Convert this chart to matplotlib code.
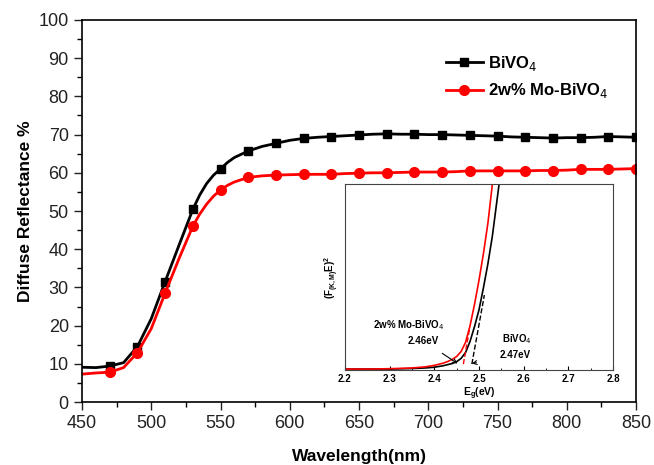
import numpy as np
import matplotlib
matplotlib.use("Agg")
import matplotlib.pyplot as plt

plt.rcParams['font.family'] = ['Liberation Sans', 'DejaVu Sans']

# Main data: wavelength (nm) and diffuse reflectance (%)
wavelength = [450, 460, 470, 480, 490, 500, 510, 520, 530, 535, 540, 545, 550, 555, 560, 570, 580,
              590, 600, 610, 620, 630, 640, 650, 660, 670, 680, 690, 700, 710, 720,
              730, 740, 750, 760, 770, 780, 790, 800, 810, 820, 830, 840, 850]
bivo4 = [9.1, 9.0, 9.4, 10.3, 14.5, 21.8, 31.5, 41.0, 50.4, 54.2, 57.2, 59.4, 61.0, 62.7, 64.0, 65.7, 66.9,
         67.7, 68.5, 69.0, 69.3, 69.5, 69.7, 69.9, 70.1, 70.2, 70.1, 70.1, 70.0, 70.0, 69.9,
         69.8, 69.7, 69.6, 69.4, 69.3, 69.2, 69.1, 69.2, 69.2, 69.3, 69.5, 69.4, 69.3]
mo_bivo4 = [7.3, 7.6, 7.8, 9.0, 12.9, 19.2, 28.5, 37.5, 46.0, 49.2, 51.8, 53.9, 55.5, 56.7, 57.6, 58.8, 59.2,
            59.4, 59.5, 59.6, 59.6, 59.6, 59.8, 59.9, 60.0, 60.0, 60.1, 60.2, 60.2, 60.2, 60.3,
            60.5, 60.5, 60.5, 60.5, 60.5, 60.6, 60.6, 60.7, 60.9, 60.9, 60.9, 61.0, 61.1]
marker_wl = [470, 490, 510, 530, 550, 570, 590, 610, 630, 650, 670, 690, 710, 730,
             750, 770, 790, 810, 830, 850]

# Inset data: photon energy (eV) vs (F(K,M)E)^2 (normalised)
eg_red = [2.20, 2.25, 2.30, 2.35, 2.38, 2.40, 2.42, 2.43, 2.44, 2.45, 2.46, 2.47, 2.48,
          2.49, 2.50, 2.51, 2.52, 2.53]
kme_red = [0.0, 0.0, 0.002, 0.006, 0.012, 0.02, 0.032, 0.041, 0.052, 0.068, 0.095, 0.145,
           0.235, 0.35, 0.48, 0.625, 0.79, 1.0]
eg_black = [2.20, 2.25, 2.30, 2.35, 2.38, 2.40, 2.42, 2.44, 2.45, 2.46, 2.47, 2.48, 2.49,
            2.50, 2.51, 2.52, 2.53, 2.545]
kme_black = [0.0, 0.0, 0.0, 0.003, 0.006, 0.01, 0.018, 0.03, 0.04, 0.058, 0.09, 0.15, 0.23,
             0.32, 0.44, 0.57, 0.72, 1.0]
tangent_red_x = [2.465, 2.479]
tangent_red_y = [0.027, 0.22]
tangent_black_x = [2.484, 2.512]
tangent_black_y = [0.027, 0.40]

fig = plt.figure(figsize=(6.54, 4.65), dpi=100)
ax = fig.add_axes([82/654, 1-402/465, (636-82)/654, (402-20)/465])

mk_b = [wavelength.index(w) for w in marker_wl]
ax.plot(wavelength, bivo4, color='black', lw=2, marker='s', markersize=6,
        markevery=mk_b, label='BiVO$_4$')
ax.plot(wavelength, mo_bivo4, color='#ff0000', lw=2, marker='o', markersize=7,
        markevery=mk_b, label='2w% Mo-BiVO$_4$')

ax.set_xlim(450, 850)
ax.set_ylim(0, 100)
ax.set_xticks(np.arange(450, 851, 50))
ax.set_xticks(np.arange(450, 851, 25), minor=True)
ax.set_yticks(np.arange(0, 101, 10))
ax.set_yticks(np.arange(0, 101, 5), minor=True)
ax.tick_params(axis='both', which='major', direction='out', length=6, width=1,
               labelsize=13, top=False, right=False, colors='#222222', labelcolor='#222222')
ax.tick_params(axis='both', which='minor', direction='out', length=3.5, width=1,
               top=False, right=False)
for s in ax.spines.values():
    s.set_linewidth(1.2)
ax.set_xlabel('Wavelength(nm)', fontsize=12.5, fontweight='bold', labelpad=12)
ax.set_ylabel('Diffuse Reflectance %', fontsize=12.5, fontweight='bold', labelpad=4)

leg = ax.legend(loc='upper left', bbox_to_anchor=(0.63, 0.95), frameon=False,
                prop={'weight': 'bold', 'size': 12}, handlelength=2.2,
                handletextpad=0.3, labelspacing=0.5)

# Inset
axin = fig.add_axes([345/654, 1-370/465, (613-345)/654, (370-184)/465])
axin.plot(eg_black, kme_black, color='black', lw=1.2)
axin.plot(eg_red, kme_red, color='#ff0000', lw=1.2)
axin.plot(tangent_red_x, tangent_red_y, color='#ff0000', lw=1, ls='--')
axin.plot(tangent_black_x, tangent_black_y, color='black', lw=1, ls='--')
axin.set_xlim(2.2, 2.8)
axin.set_ylim(-0.005, 1.0)
axin.set_xticks(np.arange(2.2, 2.81, 0.1))
axin.set_xticks(np.arange(2.2, 2.81, 0.05), minor=True)
axin.set_yticks([])
axin.tick_params(axis='x', which='major', direction='in', length=3, labelsize=7, pad=3)
axin.tick_params(axis='x', which='minor', direction='in', length=1.5)
for lab in axin.get_xticklabels():
    lab.set_fontweight('bold')
for s in axin.spines.values():
    s.set_linewidth(0.8)
    s.set_color('#444444')
axin.set_xlabel('E$_\\mathregular{g}$(eV)', fontsize=7.5, fontweight='bold', labelpad=1)
axin.set_ylabel('(F$_{\\mathregular{(K,M)}}$E)$^\\mathregular{2}$', fontsize=7,
                fontweight='bold', labelpad=3)

axin.text(2.342, 0.237, '2w% Mo-BiVO$_4$', fontsize=7, fontweight='bold', ha='center', va='center')
axin.annotate('2.46eV', xy=(2.452, 0.03), xytext=(2.376, 0.152), fontsize=7,
              fontweight='bold', ha='center', va='center',
              arrowprops=dict(arrowstyle='->', color='black', lw=0.8, shrinkA=6, shrinkB=0))
axin.text(2.585, 0.16, 'BiVO$_4$', fontsize=7, fontweight='bold', ha='center', va='center')
axin.annotate('2.47eV', xy=(2.484, 0.03), xytext=(2.581, 0.075), fontsize=7,
              fontweight='bold', ha='center', va='center',
              arrowprops=dict(arrowstyle='->', color='black', lw=0.8, shrinkA=15, shrinkB=0))

fig.savefig('out.png', dpi=100)
